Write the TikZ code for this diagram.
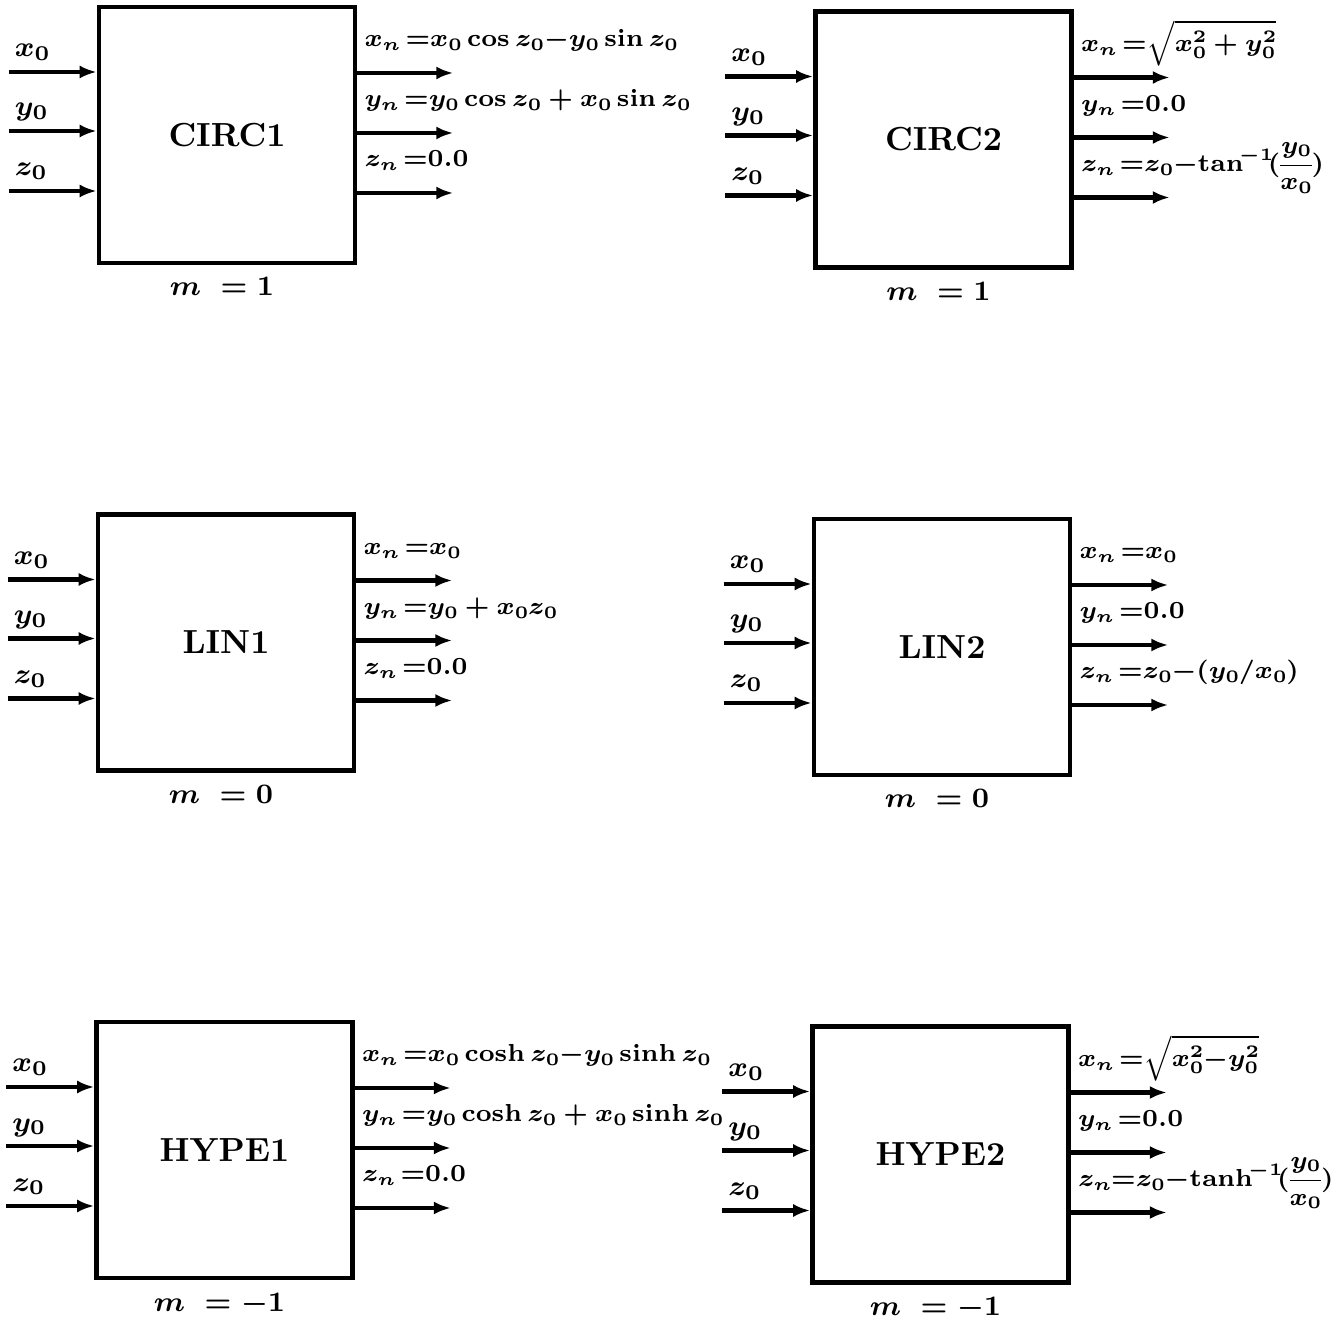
\documentclass[tikz,border=0pt]{standalone}
\usepackage{amsmath,amssymb}
\usepackage{tikz}
\usetikzlibrary{arrows.meta,positioning,calc}
\setlength{\nulldelimiterspace}{0pt}
\setlength{\scriptspace}{0pt}

% one CORDIC block: name, centre, title, m, x_n, y_n, z_n
\newcommand{\cordicblock}[7]{%
  \node[block] (#1) at (#2) {#3};
  \node[below=0.08cm of #1,xshift=-0.05cm,lbl] (#1-m) {$m\ = #4$};
  \foreach \v/\dy in {x/0.63,y/0.04,z/-0.56} {
    \coordinate (#1-in\v) at ($(#1.west)+(-0.88,\dy)$);
    \draw[arr] (#1-in\v) -- (#1-in\v -| #1.west);
    \node[lbl,anchor=base west] (#1-lab\v) at ($(#1-in\v)+(0.02,0.15)$) {$\v_0$};
  }
  \foreach \v/\dy/\txt in {x/0.62/{#5},y/0.02/{#6},z/-0.58/{#7}} {
    \coordinate (#1-out\v) at ($(#1.east)+(0,\dy)$);
    \coordinate (#1-end\v) at ($(#1-out\v)+(0.96,0)$);
    \draw[arr] (#1-out\v) -- (#1-end\v);
    \node[res,anchor=base west] (#1-res\v) at ($(#1-out\v)+(0.03,0.26)$) {$\txt$};
  }
}

\begin{document}
\begin{tikzpicture}[
    block/.style={draw,line width=1.3pt,minimum width=2.56cm,minimum height=2.56cm,font=\fontsize{9.5}{11}\selectfont\bfseries},
    lbl/.style={inner sep=1pt,font=\fontsize{8}{10}\selectfont\boldmath},
    res/.style={inner sep=1pt,font=\fontsize{7.1}{9}\selectfont\boldmath},
    arr/.style={-{Latex[length=1.7mm,width=1.3mm]},line width=1.3pt}
  ]
    \useasboundingbox[fill=white] (0,0) rectangle (13.42,-13.26);
    \cordicblock{circ1}{2.27,-1.35}{CIRC1}{1}
      {x_n\,{=}x_0\cos z_0{-}y_0\sin z_0}
      {y_n\,{=}y_0\cos z_0+x_0\sin z_0}
      {z_n\,{=}0.0}
    \cordicblock{circ2}{9.435,-1.395}{CIRC2}{1}
      {x_n\,{=}\sqrt{x_0^2+y_0^2}}
      {y_n\,{=}0.0}
      {z_n\,{=}z_0{-}\mathrm{tan}^{\!-1}\!(\dfrac{y_0}{x_0})}
    \cordicblock{lin1}{2.26,-6.425}{LIN1}{0}
      {x_n\,{=}x_0}
      {y_n\,{=}y_0+x_0z_0}
      {z_n\,{=}0.0}
    \cordicblock{lin2}{9.42,-6.47}{LIN2}{0}
      {x_n\,{=}x_0}
      {y_n\,{=}0.0}
      {z_n\,{=}z_0{-}(y_0/x_0)}
    \cordicblock{hype1}{2.245,-11.50}{HYPE1}{-1}
      {x_n\,{=}x_0\cosh z_0{-}y_0\sinh z_0}
      {y_n\,{=}y_0\cosh z_0+x_0\sinh z_0}
      {z_n\,{=}0.0}
    \cordicblock{hype2}{9.405,-11.545}{HYPE2}{-1}
      {x_n\,{=}\sqrt{x_0^2{-}y_0^2}}
      {y_n\,{=}0.0}
      {z_n{=}z_0{-}\mathrm{tanh}^{\!-1}\!(\dfrac{y_0}{x_0})}
  \end{tikzpicture}
\end{document}
